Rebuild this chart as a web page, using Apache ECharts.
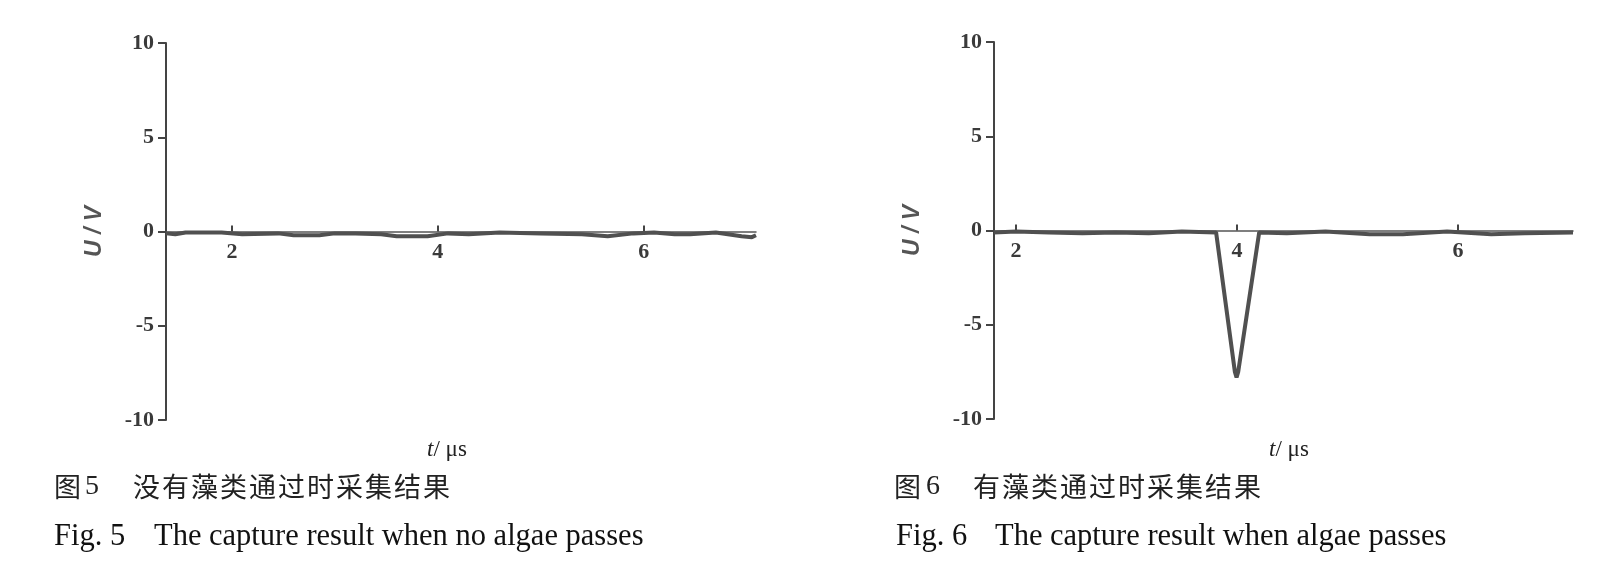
<!DOCTYPE html>
<html>
<head>
<meta charset="utf-8">
<script src="https://cdn.jsdelivr.net/npm/echarts@6/dist/echarts.min.js"></script>
<style>
html,body{margin:0;padding:0;background:#fff;}
#c{width:1612px;height:588px;}
</style>
</head>
<body>
<div id="c"></div>
<script>
// ---- data ----
const yTicks = [-10, -5, 0, 5, 10];
const xTickValues = [2, 4, 6];

// Fig.5 : no algae
const timeNoAlgae = [1.36, 1.45, 1.55, 1.9, 2.1, 2.45, 2.6, 2.85, 3.0, 3.2, 3.45, 3.6, 3.9, 4.1, 4.3, 4.6, 5.0, 5.4, 5.65, 5.9, 6.1, 6.3, 6.45, 6.7, 6.95, 7.05, 7.09];
const voltNoAlgae = [-0.1, -0.15, -0.05, -0.05, -0.15, -0.1, -0.2, -0.2, -0.1, -0.1, -0.15, -0.25, -0.25, -0.1, -0.15, -0.05, -0.1, -0.15, -0.25, -0.1, -0.05, -0.15, -0.15, -0.05, -0.25, -0.3, -0.2];

// Fig.6 : algae passes
const timeAlgae = [1.80, 2.0, 2.3, 2.6, 2.9, 3.2, 3.5, 3.81, 3.98, 3.995, 4.01, 4.2, 4.45, 4.8, 5.2, 5.5, 5.9, 6.3, 6.6, 7.04];
const voltAlgae = [-0.1, -0.05, -0.1, -0.15, -0.1, -0.15, -0.05, -0.1, -7.5, -7.8, -7.5, -0.1, -0.15, -0.05, -0.2, -0.2, -0.05, -0.2, -0.15, -0.1];

const yName = 'U / V';
const xName = 't/ μs';
const captionCn5 = ['图', '5', '没有藻类通过时采集结果'];
const captionCn6 = ['图', '6', '有藻类通过时采集结果'];
const captionEn5 = ['Fig. 5', 'The capture result when no algae passes'];
const captionEn6 = ['Fig. 6', 'The capture result when algae passes'];

// ---- chart ----
const chart = echarts.init(document.getElementById('c'), null, {renderer: 'canvas'});

const serif = "'Liberation Serif', 'DejaVu Serif', serif";
const cjk = "'Noto Sans CJK SC', sans-serif";
const lineColor = '#505050';
const textColor = '#3a3a3a';
const gridH = 377;

function zip(a, b) { return a.map((v, i) => [v, b[i]]); }

function yAxis(gi, gap) {
  return {
    type: 'value', gridIndex: gi, min: -10, max: 10, interval: 5,
    axisLine: {show: true, lineStyle: {color: '#444', width: 2}},
    axisTick: {show: true, length: 8, lineStyle: {color: '#444', width: 2}},
    axisLabel: {margin: 12, fontFamily: serif, fontSize: 22, fontWeight: 'bold', color: textColor},
    splitLine: {show: false},
    name: yName, nameLocation: 'middle', nameRotate: 90, nameGap: gap,
    nameTextStyle: {fontFamily: "'Liberation Sans', sans-serif", fontSize: 23, fontWeight: 'bold', fontStyle: 'italic', color: '#555'}
  };
}
function xAxis(gi, min, max) {
  return {
    type: 'value', gridIndex: gi, min: min, max: max,
    position: 'bottom', offset: -gridH / 2,
    axisLine: {show: true, onZero: false, lineStyle: {color: '#555', width: 1.5}},
    axisTick: {show: true, inside: true, length: 6, customValues: xTickValues, lineStyle: {color: '#444', width: 2}},
    axisLabel: {margin: 10, customValues: xTickValues, fontFamily: serif, fontSize: 22, fontWeight: 'bold', color: textColor},
    splitLine: {show: false}
  };
}

function cnCaption(parts, x0, x1, xText, step, y) {
  const els = [
    {type: 'text', x: x0, y: y, style: {text: parts[0], font: "27px " + cjk, fill: '#222', verticalAlign: 'middle'}},
    {type: 'text', x: x1, y: y, style: {text: parts[1], font: "28px " + serif, fill: '#222', verticalAlign: 'middle'}}
  ];
  Array.from(parts[2]).forEach((ch, i) => {
    els.push({type: 'text', x: xText + i * step, y: y, style: {text: ch, font: "27px " + cjk, fill: '#222', verticalAlign: 'middle'}});
  });
  return els;
}
function enCaption(parts, x0, x1, y) {
  return [
    {type: 'text', x: x0, y: y, style: {text: parts[0], font: "30.5px " + serif, fill: '#111', verticalAlign: 'middle'}},
    {type: 'text', x: x1, y: y, style: {text: parts[1], font: "30.5px " + serif, fill: '#111', verticalAlign: 'middle'}}
  ];
}
function xTitle(cx, y) {
  return {type: 'text', x: cx, y: y, style: {
    text: '{i|t}{n|/ μs}', align: 'center', verticalAlign: 'middle',
    rich: {i: {fontFamily: serif, fontStyle: 'italic', fontSize: 23, fill: '#222'},
           n: {fontFamily: serif, fontSize: 23, fill: '#222'}}
  }};
}

chart.setOption({
  backgroundColor: '#fff',
  animation: false,
  grid: [
    {left: 166, top: 43, width: 590, height: gridH, containLabel: false},
    {left: 994, top: 42, width: 579, height: gridH, containLabel: false}
  ],
  xAxis: [xAxis(0, 1.36, 7.09), xAxis(1, 1.80, 7.04)],
  yAxis: [yAxis(0, 60), yAxis(1, 70)],
  series: [
    {type: 'line', xAxisIndex: 0, yAxisIndex: 0, data: zip(timeNoAlgae, voltNoAlgae), showSymbol: false,
     lineStyle: {color: lineColor, width: 4}},
    {type: 'line', xAxisIndex: 1, yAxisIndex: 1, data: zip(timeAlgae, voltAlgae), showSymbol: false,
     lineStyle: {color: lineColor, width: 4}}
  ],
  graphic: [
    xTitle(447, 450),
    xTitle(1289, 450),
    ...cnCaption(captionCn5, 54, 85, 133, 29, 487),
    ...cnCaption(captionCn6, 894, 926, 973, 29, 487),
    ...enCaption(captionEn5, 54, 154, 537),
    ...enCaption(captionEn6, 896, 995, 537)
  ]
});
</script>
</body>
</html>
